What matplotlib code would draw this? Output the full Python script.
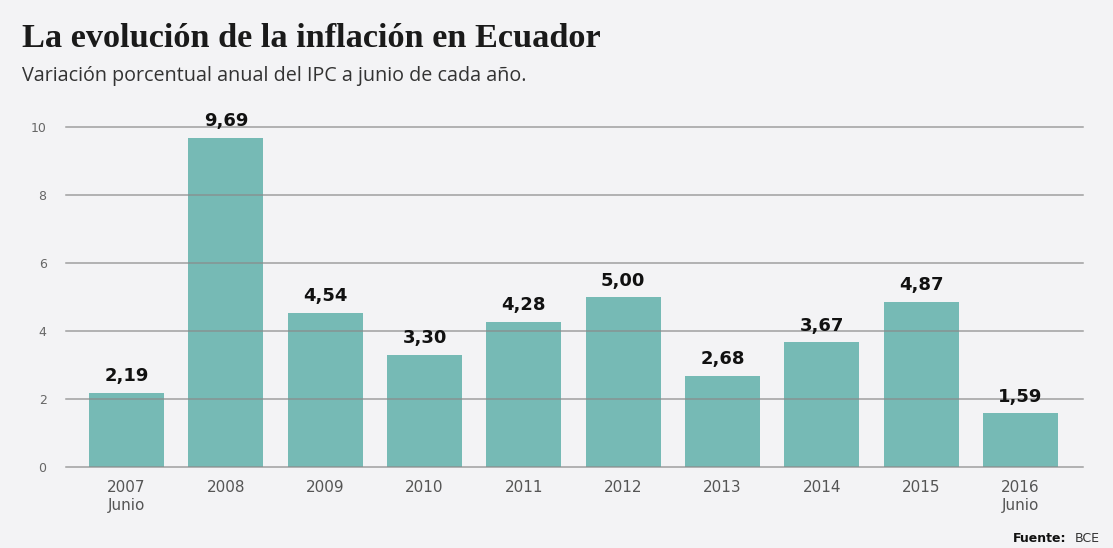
import numpy as np
import matplotlib.pyplot as plt

# data
years = ['2007\nJunio', '2008', '2009', '2010', '2011', '2012', '2013', '2014', '2015', '2016\nJunio']
inflation = [2.19, 9.69, 4.54, 3.30, 4.28, 5.00, 2.68, 3.67, 4.87, 1.59]
yticks = [0, 2, 4, 6, 8, 10]

BG = '#f3f3f5'
BAR = '#76bab5'
GRID = '#8a8a8a'

fig = plt.figure(figsize=(11.13, 5.48), dpi=100, facecolor=BG)
ax = fig.add_axes([0.0593, 0.1478, 0.9137, 0.620], facecolor=BG)

x = np.arange(len(years))
ax.bar(x, inflation, width=0.755, color=BAR, zorder=1)

# gridlines drawn over the bars
for v in yticks:
    ax.axhline(v, color=GRID, lw=1.1, alpha=0.8, zorder=2, clip_on=False)

for xi, v in zip(x, inflation):
    ax.text(xi, v + 0.22, '{:.2f}'.format(v).replace('.', ','), ha='center', va='bottom',
            fontsize=13, fontweight='bold', color='#111111', family='DejaVu Sans', zorder=3)

ax.set_xlim(-0.61, 9.63)
ax.set_ylim(0, 10)
ax.set_xticks(x)
ax.set_xticklabels(years, fontsize=11, color='#555555', linespacing=1.25)
ax.set_yticks(yticks)
ax.set_yticklabels([str(t) for t in yticks], fontsize=9, color='#666666')
ax.tick_params(axis='both', length=0)
ax.tick_params(axis='x', pad=9)
ax.tick_params(axis='y', pad=14)
for s in ax.spines.values():
    s.set_visible(False)

fig.text(0.020, 0.93, 'La evolución de la inflación en Ecuador', fontsize=24.7,
         fontweight='bold', family='Liberation Serif', color='#1a1a1a', va='center')
fig.text(0.020, 0.862, 'Variación porcentual anual del IPC a junio de cada año.', fontsize=14.2,
         family=['Liberation Sans Narrow', 'Open Sans'], color='#333333', va='center')
fig.text(0.958, 0.006, 'Fuente:', fontsize=9, fontweight='bold', color='#111111', ha='right', va='bottom')
fig.text(0.988, 0.006, 'BCE', fontsize=9, color='#333333', ha='right', va='bottom')

fig.savefig('out.png', dpi=100, facecolor=BG)
